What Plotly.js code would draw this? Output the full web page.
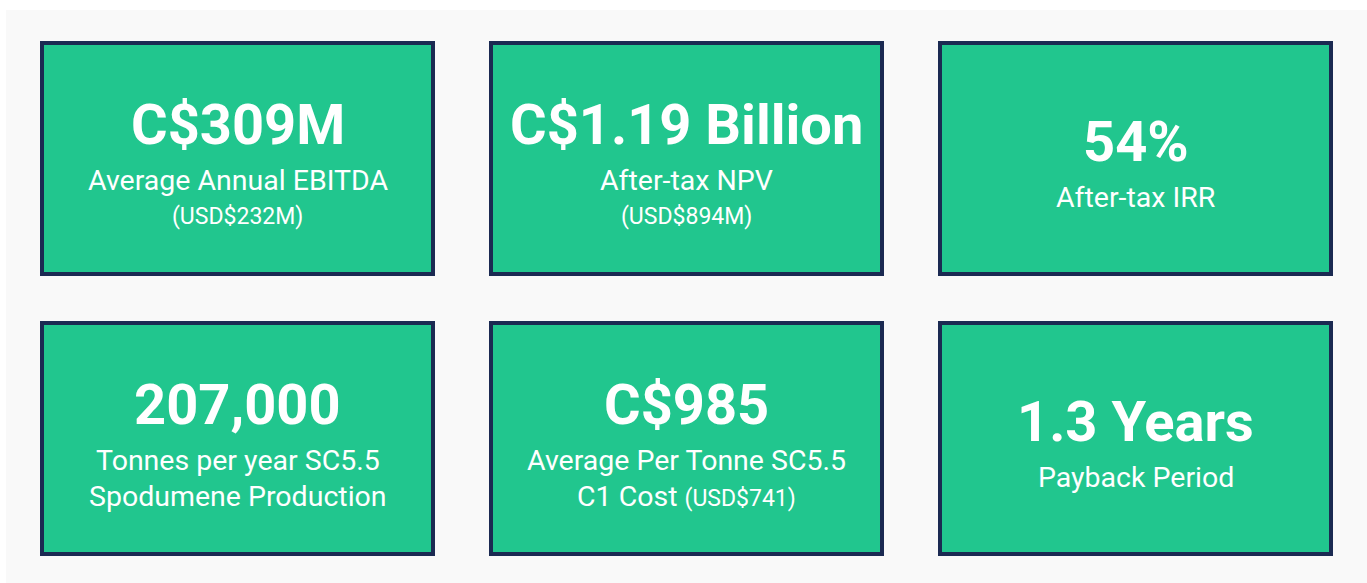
<!DOCTYPE html>
<html>
<head>
<meta charset="utf-8">
<script src="https://cdn.plot.ly/plotly-3.0.1.min.js"></script>
<style>html,body{margin:0;padding:0;background:#fff;}#chart{width:1367px;height:583px;}</style>
</head>
<body>
<div id="chart"></div>
<script>
// ---- data ----
const values = ['C$309M', 'C$1.19 Billion', '54%', '207,000', 'C$985', '1.3 Years'];
const labels = [
  ['Average Annual EBITDA'],
  ['After-tax NPV'],
  ['After-tax IRR'],
  ['Tonnes per year SC5.5', 'Spodumene Production'],
  ['Average Per Tonne SC5.5', 'C1 Cost'],
  ['Payback Period']
];
const notes = ['(USD$232M)', '(USD$894M)', '', '', '(USD$741)', ''];
const notesInline = [false, false, false, false, true, false];

// ---- style / layout constants ----
const W = 1367, H = 583;
const GREEN = '#21c68e', NAVY = '#1b2a52', PANEL = '#f9f9f9';
const COLS = 3;
const BOX = {left: 40, top: 41, w: 395, h: 235, pitchX: 449, pitchY: 280, border: 4};
const FONT = 'Roboto, "Open Sans", sans-serif';

const shapes = [{
  type: 'rect', xref: 'x', yref: 'y', x0: 6, x1: W, y0: 10, y1: H,
  fillcolor: PANEL, line: {width: 0}, layer: 'below'
}];
const annotations = [];

values.forEach((v, i) => {
  const c = i % COLS, r = Math.floor(i / COLS);
  const x0 = BOX.left + c * BOX.pitchX, y0 = BOX.top + r * BOX.pitchY;
  const b = BOX.border / 2;
  shapes.push({
    type: 'rect', xref: 'x', yref: 'y',
    x0: x0 + b, x1: x0 + BOX.w - b, y0: y0 + b, y1: y0 + BOX.h - b,
    fillcolor: GREEN, line: {color: NAVY, width: BOX.border}
  });
  const cx = x0 + BOX.w / 2;
  const lines = labels[i].slice();
  if (notes[i]) {
    if (notesInline[i]) {
      lines[lines.length - 1] += ' <span style="font-size:23px">' + notes[i] + '</span>';
    } else {
      lines.push('<span style="font-size:23px">' + notes[i] + '</span>');
    }
  }
  const n = lines.length;
  const titleY = y0 + 118 - 17 * n;
  annotations.push({
    xref: 'x', yref: 'y', x: cx, y: titleY, xanchor: 'center', yanchor: 'middle',
    text: v, showarrow: false,
    font: {family: FONT, size: 56, color: '#ffffff', weight: 700}
  });
  lines.forEach((t, k) => {
    annotations.push({
      xref: 'x', yref: 'y', x: cx, y: titleY + 55 + 36 * k, xanchor: 'center', yanchor: 'middle',
      text: t, showarrow: false,
      font: {family: FONT, size: 28.5, color: '#ffffff'}
    });
  });
});

const layout = {
  width: W, height: H,
  margin: {l: 0, r: 0, t: 0, b: 0, pad: 0},
  paper_bgcolor: '#ffffff', plot_bgcolor: 'rgba(0,0,0,0)',
  xaxis: {range: [0, W], visible: false, fixedrange: true},
  yaxis: {range: [H, 0], visible: false, fixedrange: true},
  showlegend: false,
  shapes: shapes,
  annotations: annotations
};

Plotly.newPlot('chart', [], layout, {displayModeBar: false, staticPlot: true});
</script>
</body>
</html>
